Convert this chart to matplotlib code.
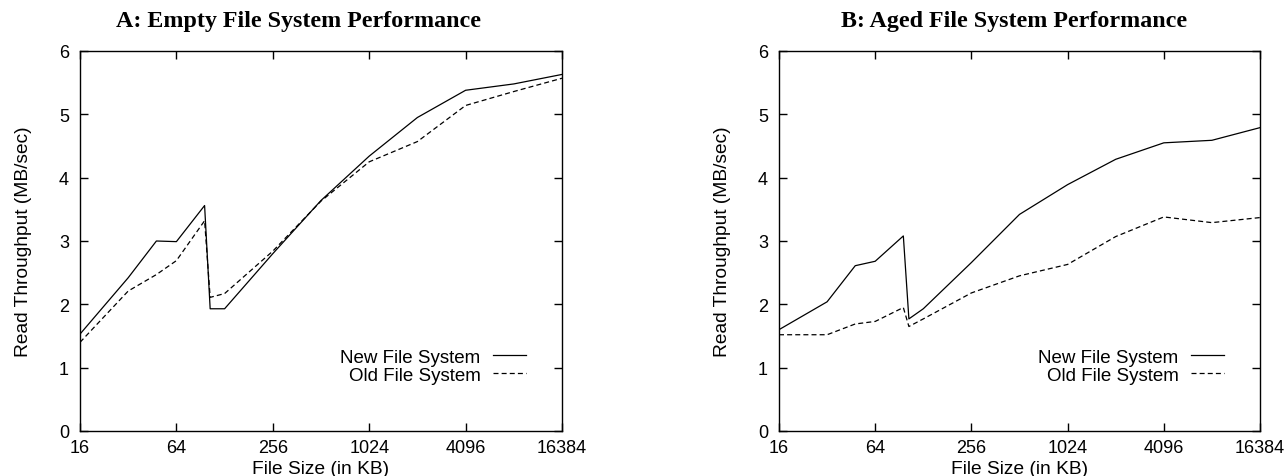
import matplotlib
matplotlib.use('Agg')
import matplotlib.pyplot as plt

# file sizes in KB
sizes = [16, 32, 48, 64, 96, 104, 128, 256, 512, 1024, 2048, 4096, 8192, 16384]

# read throughput (MB/sec)
empty_new = [1.53, 2.42, 3.00, 2.99, 3.56, 1.93, 1.93, 2.80, 3.64, 4.34, 4.95, 5.38, 5.48, 5.63]
empty_old = [1.40, 2.21, 2.47, 2.69, 3.32, 2.11, 2.17, 2.84, 3.63, 4.25, 4.57, 5.14, 5.36, 5.57]
aged_new = [1.60, 2.04, 2.61, 2.68, 3.08, 1.77, 1.93, 2.66, 3.42, 3.89, 4.29, 4.55, 4.59, 4.79]
aged_old = [1.52, 1.52, 1.69, 1.73, 1.95, 1.65, 1.77, 2.18, 2.45, 2.63, 3.07, 3.38, 3.29, 3.37]

xticks = [16, 64, 256, 1024, 4096, 16384]
yticks = [0, 1, 2, 3, 4, 5, 6]

titles = ['A: Empty File System Performance', 'B: Aged File System Performance']
panels = [(empty_new, empty_old), (aged_new, aged_old)]

plt.rcParams['font.family'] = ['Liberation Sans', 'DejaVu Sans']
plt.rcParams['font.size'] = 13.5

W, H = 1288.0, 477.0
fig = plt.figure(figsize=(W / 100, H / 100), dpi=100)

# axes boxes in pixels: left, top, right, bottom, title centre
boxes = [(80, 52, 562, 432, 299), (779, 52, 1260, 432, 1014)]


def draw(ax, new, old, title, tx):
  ax.plot(sizes, new, color='black', lw=0.9, label='New File System')
  ax.plot(sizes, old, color='black', lw=0.9, dashes=(4, 2.5),
          label='Old File System')

  ax.set_xscale('log', base=2)
  ax.set_xlim(16, 16384)
  ax.set_ylim(0, 6)
  ax.set_xticks(xticks)
  ax.set_xticklabels([str(t) for t in xticks])
  ax.minorticks_off()
  ax.set_yticks(yticks)

  ax.tick_params(direction='in', length=6, width=1, top=True, right=True,
                 labelsize=13)
  ax.tick_params(axis='x', pad=6)
  ax.tick_params(axis='y', pad=8)
  for s in ax.spines.values():
    s.set_linewidth(1.0)

  ax.set_xlabel('File Size (in KB)', size=13.8, labelpad=3)
  ax.set_ylabel('Read Throughput (MB/sec)', size=13.8, labelpad=19)
  ax.set_title(title, family='Liberation Serif', weight='bold', size=17.3,
               pad=18, x=tx)

  ax.legend(loc='lower right', bbox_to_anchor=(0.94, 0.104), frameon=False,
            markerfirst=False, handlelength=1.75, handletextpad=0.65,
            labelspacing=0.05, borderaxespad=0, fontsize=13.5)


for (l, t, r, b, c), (new, old), title in zip(boxes, panels, titles):
  ax = fig.add_axes([l / W, 1 - b / H, (r - l) / W, (b - t) / H])
  draw(ax, new, old, title, (c - l) / (r - l))

fig.savefig('out.png', dpi=100)
